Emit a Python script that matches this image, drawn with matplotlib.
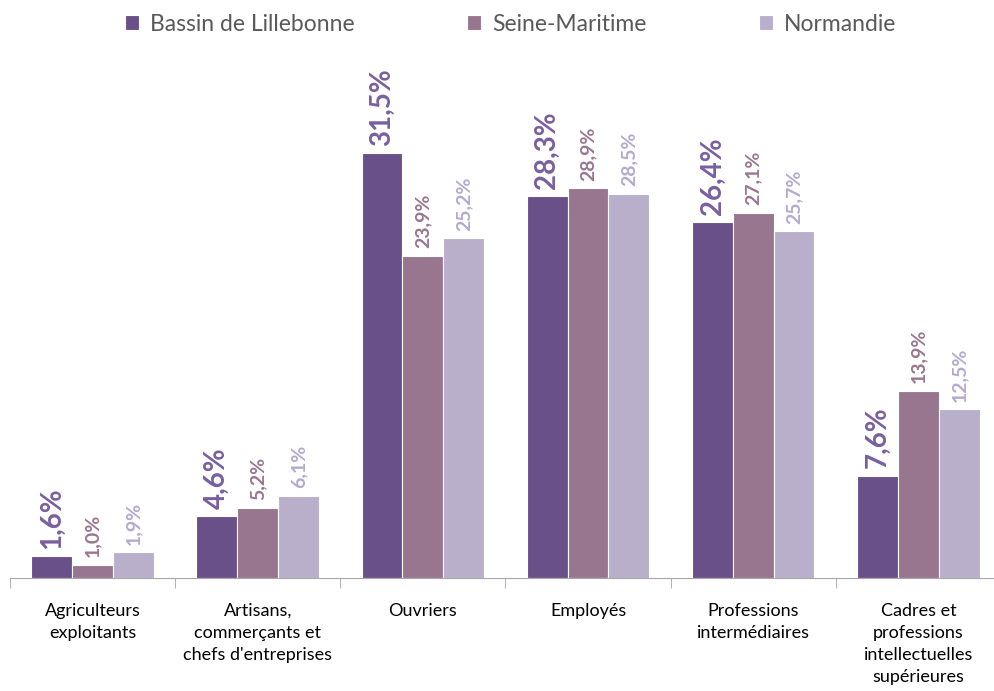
import matplotlib.pyplot as plt
import numpy as np

categories = ["Agriculteurs\nexploitants", "Artisans,\ncommerçants et\nchefs d'entreprises",
              "Ouvriers", "Employés", "Professions\nintermédiaires",
              "Cadres et\nprofessions\nintellectuelles\nsupérieures"]
series = ["Bassin de Lillebonne", "Seine-Maritime", "Normandie"]
bassin = [1.6, 4.6, 31.5, 28.3, 26.4, 7.6]
seine = [1.0, 5.2, 23.9, 28.9, 27.1, 13.9]
normandie = [1.9, 6.1, 25.2, 28.5, 25.7, 12.5]

colors = ['#6a5088', '#98768f', '#b9afcb']
label_colors = ['#7a5fa0', '#98768f', '#b4a9cf']
label_sizes = [20, 14, 14]

plt.rcParams['font.family'] = ['Lato', 'DejaVu Sans']
fig = plt.figure(figsize=(9.94, 6.91), dpi=100)
ax = fig.add_axes([0.01, 0.1635, 0.997, 0.683])

x = np.arange(len(categories))
w = 0.247
for k, vals in enumerate([bassin, seine, normandie]):
    pos = x + (k - 1) * w
    ax.bar(pos, vals, w, color=colors[k], edgecolor='white', linewidth=0.8, label=series[k])
    for p, v in zip(pos, vals):
        ax.text(p, v + 0.55, ('%.1f%%' % v).replace('.', ','), rotation=90, ha='center', va='bottom',
                color=label_colors[k], fontsize=label_sizes[k], fontweight='bold', clip_on=False)

ax.set_xlim(-0.5, len(categories) - 0.5)
ax.set_ylim(0, 35)
for s in ['top', 'right', 'left']:
    ax.spines[s].set_visible(False)
ax.spines['bottom'].set_color('#a6a6a6')
ax.set_yticks([])
ax.set_xticks(x)
ax.set_xticklabels(categories, fontsize=13, linespacing=1.45)
ax.tick_params(axis='x', which='major', length=0, pad=18)
ax.set_xticks(np.arange(len(categories) + 1) - 0.5, minor=True)
ax.tick_params(axis='x', which='minor', length=7, color='#a6a6a6')

leg = fig.legend(loc='upper center', bbox_to_anchor=(0.514, 1.01), ncol=3, frameon=False,
                 fontsize=16.5, handlelength=0.6, handleheight=0.6, columnspacing=4.9, handletextpad=0.5)
for t in leg.get_texts():
    t.set_color('#595959')

fig.savefig('out.png', dpi=100)
